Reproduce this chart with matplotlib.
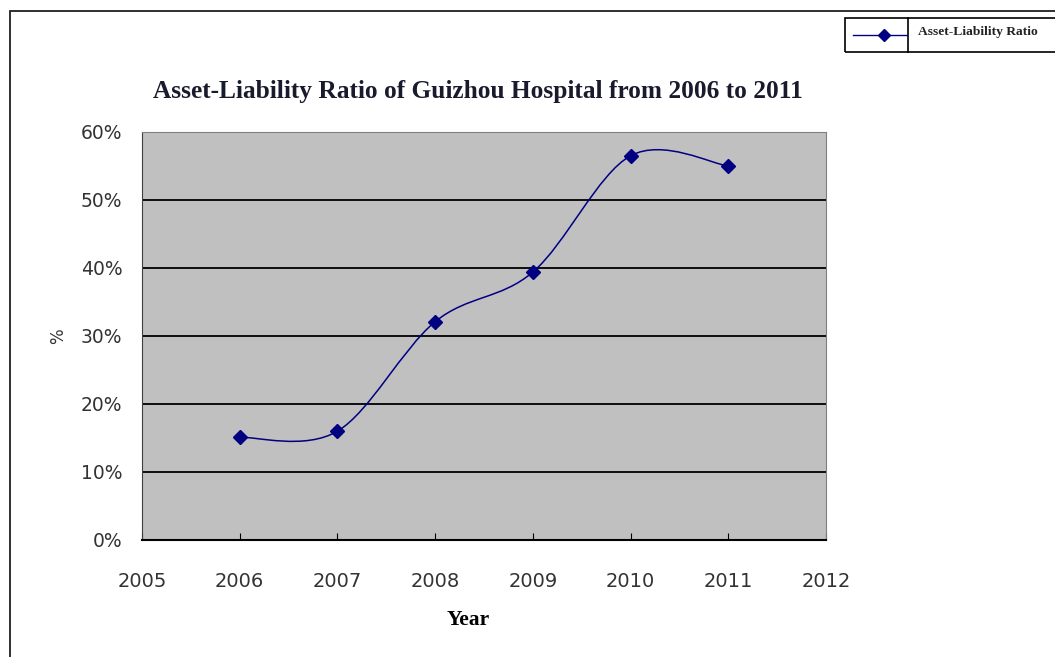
import matplotlib
matplotlib.use("Agg")
from matplotlib import pyplot as plt
from matplotlib.path import Path
from matplotlib.patches import PathPatch, Rectangle
from matplotlib.lines import Line2D
from matplotlib.ticker import PercentFormatter
import numpy as np

years = [2006, 2007, 2008, 2009, 2010, 2011]
ratio = [0.151, 0.160, 0.321, 0.394, 0.565, 0.550]
x_ticks = [2005, 2006, 2007, 2008, 2009, 2010, 2011, 2012]
y_ticks = [0.0, 0.1, 0.2, 0.3, 0.4, 0.5, 0.6]
series_name = "Asset-Liability Ratio"
title = "Asset-Liability Ratio of Guizhou Hospital from 2006 to 2011"

navy = "#000080"


def smooth_path(xs, ys):
    # excel style smoothed line: cubic bezier segments, catmull-rom control points
    pts = np.column_stack([xs, ys]).astype(float)
    verts = [pts[0]]
    codes = [Path.MOVETO]
    for i in range(len(pts) - 1):
        p0 = pts[i - 1] if i > 0 else pts[i]
        p1 = pts[i]
        p2 = pts[i + 1]
        p3 = pts[i + 2] if i + 2 < len(pts) else pts[i + 1]
        verts += [p1 + (p2 - p0) / 6, p2 - (p3 - p1) / 6, p2]
        codes += [Path.CURVE4] * 3
    return Path(verts, codes)


fig = plt.figure(figsize=(10.55, 6.57), dpi=100)
ax = fig.add_axes([0.1346, 0.1781, 0.6483, 0.621])
ax.set_facecolor("#c0c0c0")

ax.add_patch(PathPatch(smooth_path(years, ratio), facecolor="none", edgecolor=navy, lw=1.1, zorder=3))
ax.plot(years, ratio, linestyle="none", marker="D", markersize=7, color=navy, zorder=4)

ax.set_xlim(2005, 2012)
ax.set_ylim(0, 0.6)
ax.set_xticks(x_ticks)
ax.set_yticks(y_ticks)
ax.yaxis.set_major_formatter(PercentFormatter(1.0, decimals=0))
ax.grid(axis="y", color="black", lw=1.3)
ax.set_axisbelow(True)
ax.tick_params(axis="x", direction="in", length=5, pad=23, labelsize=14, labelcolor="#333333")
ax.tick_params(axis="y", direction="in", length=0, pad=14, labelsize=13.5, labelcolor="#333333")
for s in ["top", "right"]:
    ax.spines[s].set_color("#808080")
ax.spines["left"].set_color("#404040")
ax.spines["bottom"].set_color("black")
ax.spines["bottom"].set_linewidth(1.5)

ax.set_xlabel("Year", family="Liberation Serif", fontweight="bold", fontsize=15.5)
ax.xaxis.set_label_coords(0.477, -0.172)
ax.set_ylabel("%", fontsize=12, rotation=90, labelpad=10, color="#333333")
fig.text(0.453, 0.861, title, ha="center", va="center", family="Liberation Serif",
         fontweight="bold", fontsize=18.3, color="#1a1a2e")

# outer chart border
fig.patches.append(Rectangle((10 / 1055, -0.02), 1.1, 1.0 - 11 / 657 + 0.02,
                             transform=fig.transFigure, fill=False, edgecolor="#202020", lw=1.3))

# legend box
lx0, lx1, lx2 = 845 / 1055, 908 / 1055, 1.05
ly0, ly1 = 1 - 52 / 657, 1 - 18 / 657
fig.patches.append(Rectangle((lx0, ly0), lx2 - lx0, ly1 - ly0, transform=fig.transFigure,
                             fill=False, edgecolor="black", lw=1.2))
fig.lines.append(Line2D([lx1, lx1], [ly0, ly1], transform=fig.transFigure, color="black", lw=1.2))
fig.lines.append(Line2D([853 / 1055, 907 / 1055], [(ly0 + ly1) / 2] * 2, transform=fig.transFigure,
                        color=navy, lw=1.0))
fig.lines.append(Line2D([884 / 1055], [(ly0 + ly1) / 2], transform=fig.transFigure, color=navy,
                        marker="D", markersize=6, linestyle="none"))
fig.text(918 / 1055, 1 - 32 / 657, series_name, ha="left", va="center", family="Liberation Serif",
         fontweight="bold", fontsize=9.7, color="#222222")

fig.savefig("out.png", dpi=100)
